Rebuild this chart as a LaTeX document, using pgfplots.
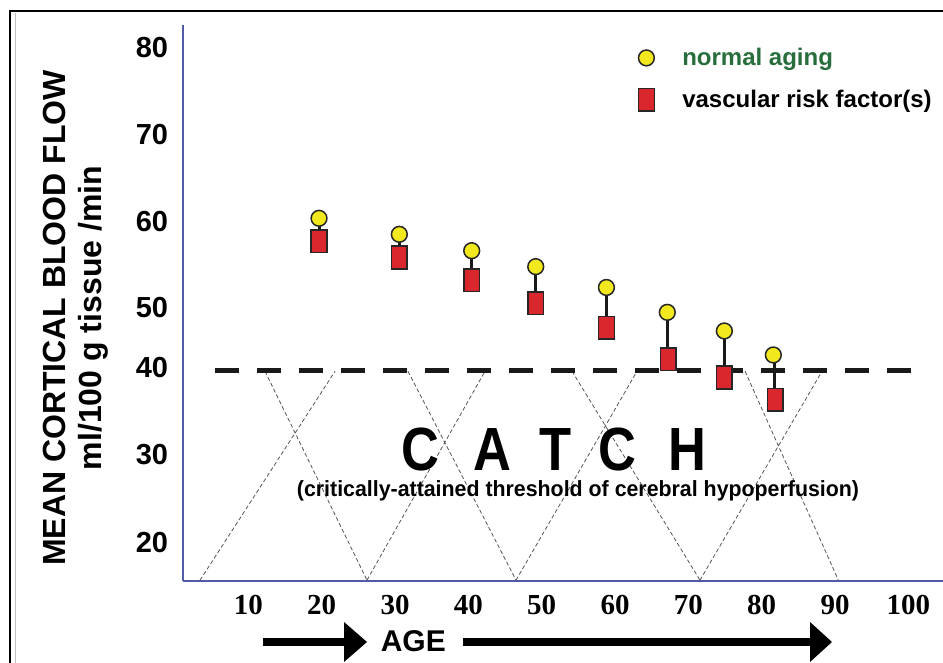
\documentclass[border=0pt]{standalone}
\usepackage{fontspec}
\setmainfont{Liberation Sans}
\newfontfamily\timesfont{Liberation Serif}
\usepackage{pgfplots}
\pgfplotsset{compat=1.18}
\definecolor{axblue}{RGB}{80,90,165}
\definecolor{myyellow}{RGB}{242,232,30}
\definecolor{myred}{RGB}{218,38,45}
\definecolor{mygreen}{RGB}{40,110,60}
\definecolor{dgrey}{RGB}{85,85,85}
\newcommand{\fs}[1]{\fontsize{#1}{#1}\selectfont}
\begin{document}
\begin{tikzpicture}[x=1pt,y=1pt]
\path[use as bounding box] (0,0) rectangle (943,663);
\clip (0,0) rectangle (943,663);
% outer frame
\draw[black, line width=2.3pt] (10,-5) -- (10,651.8) -- (960,651.8);
\draw[black!25, line width=0.8pt] (15,-5) -- (15,650);
\begin{axis}[
  at={(183pt,82.3pt)}, anchor=south west,
  scale only axis, width=762pt, height=555.7pt,
  xmin=1.09, xmax=105, ymin=18.54, ymax=82.65,
  axis x line*=bottom, axis y line*=left,
  axis line style={axblue, line width=2.2pt},
  major tick length=0pt,
  /pgf/number format/assume math mode=true,
  xtick={10,20,30,40,50,60,70,80,90,100},
  xticklabels={10,20,30,40,50,60,70,80,90,100},
  xticklabel style={font=\timesfont\bfseries\fs{29}, anchor=center, yshift=-24.3pt},
  ytick={23.0,33.05,43.1,50,60,70,80},
  yticklabels={20,30,40,50,60,70,80},
  yticklabel style={font=\bfseries\fs{29}, anchor=east, inner sep=0pt, xshift=-14.7pt},
  clip=false,
  legend style={at={(axis description cs:0.5975,0.9617)}, anchor=north west,
    draw=none, fill=none, inner sep=0pt, font=\bfseries\fs{24},
    column sep=26pt, row sep=19pt, cells={anchor=west}},
]
% diagonal thin dashed lines (X shapes)
\addplot[forget plot, dgrey, line width=0.8pt, dash pattern=on 4pt off 2.5pt, unbounded coords=jump] coordinates {
(3.41,18.6) (21.82,42.7) (21.82,nan)
(12.27,42.7) (26.18,18.6) (26.18,nan)
(26.18,18.6) (42.27,42.7) (42.27,nan)
(31.77,42.7) (46.50,18.6) (46.50,nan)
(46.50,18.6) (63.00,42.7) (63.00,nan)
(54.14,42.7) (71.59,18.6) (71.59,nan)
(71.59,18.6) (88.23,42.7) (88.23,nan)
(77.74,42.7) (90.46,18.6)
};
% threshold
\addplot[forget plot, black!90, line width=5pt, dash pattern=on 24pt off 18pt] coordinates {(5.45,42.77) (100.64,42.77)};
% stems
\addplot[forget plot, black!90, line width=3pt, unbounded coords=jump] coordinates {
(19.64,60.35) (19.64,57.71) (19.64,nan)
(30.59,58.50) (30.59,55.83) (30.59,nan)
(40.46,56.61) (40.46,53.21) (40.46,nan)
(49.19,54.77) (49.19,50.55) (49.19,nan)
(58.83,52.37) (58.83,47.73) (58.83,nan)
(67.20,49.50) (67.20,44.09) (67.20,nan)
(74.91,47.35) (74.91,41.98) (74.91,nan)
(81.70,44.58) (81.70,39.41)
};
% normal aging
\addplot[only marks, mark=*, mark size=7.9pt, mark options={fill=myyellow, draw=black!85, line width=1.5pt}] coordinates {
(19.64,60.35) (30.59,58.50) (40.46,56.61) (49.19,54.77) (58.83,52.37) (67.13,49.50) (74.91,47.35) (81.59,44.58)
};
\addlegendentry{\textcolor{mygreen}{normal aging}}
% vascular risk
\addplot[only marks, mark=square*, mark size=7.9pt, mark options={fill=myred, draw=black!85, line width=1.5pt, yscale=1.44}] coordinates {
(19.64,57.71) (30.59,55.83) (40.46,53.21) (49.19,50.55) (58.83,47.73) (67.27,44.09) (74.91,41.98) (81.86,39.41)
};
\addlegendentry{vascular risk factor(s)}
\end{axis}
% y axis labels
\node[rotate=90, anchor=base, inner sep=0pt, font=\bfseries\fs{32}] at (65,345) {MEAN CORTICAL BLOOD FLOW};
\node[rotate=90, anchor=base, inner sep=0pt, font=\bfseries\fs{32}] at (101.7,345) {ml/100 g tissue /min};
% CATCH
\node[anchor=base, inner sep=0pt, font=\bfseries\fs{61}, xscale=0.86] at (554,192.3) {C\hspace{40pt}A\hspace{32pt}T\hspace{31.5pt}C\hspace{38pt}H};
\node[anchor=base, inner sep=0pt, font=\bfseries\fs{22}, xscale=0.97] at (578,166) {(critically-attained threshold of cerebral hypoperfusion)};
% AGE arrows
\draw[black, line width=8pt] (263.3,21) -- (346,21);
\fill[black] (344,41) -- (367,21) -- (344,1) -- cycle;
\node[anchor=base, inner sep=0pt, font=\bfseries\fs{30}] at (413.3,11.1) {AGE};
\draw[black, line width=8pt] (463.3,21) -- (812,21);
\fill[black] (810,41) -- (832,21) -- (810,1) -- cycle;
\end{tikzpicture}
\end{document}
